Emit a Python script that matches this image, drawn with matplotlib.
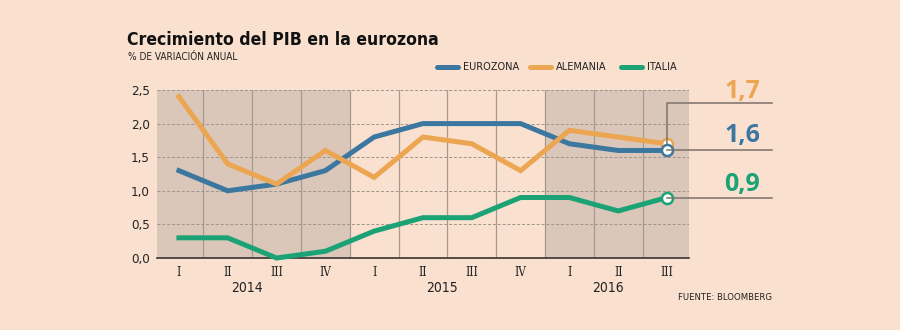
import matplotlib.pyplot as plt

# Trimestres 2014-I .. 2016-III
quarters = ['I', 'II', 'III', 'IV', 'I', 'II', 'III', 'IV', 'I', 'II', 'III']
years = ['2014', '2015', '2016']
year_pos = [1.4, 5.4, 8.8]

eurozona = [1.3, 1.0, 1.1, 1.3, 1.8, 2.0, 2.0, 2.0, 1.7, 1.6, 1.6]
alemania = [2.4, 1.4, 1.1, 1.6, 1.2, 1.8, 1.7, 1.3, 1.9, 1.8, 1.7]
italia = [0.3, 0.3, 0.0, 0.1, 0.4, 0.6, 0.6, 0.9, 0.9, 0.7, 0.9]

yticks = [0.0, 0.5, 1.0, 1.5, 2.0, 2.5]

BG = '#f9e0cf'
SHADE = '#dac7b9'
C_EZ = '#3c77a0'
C_AL = '#eca550'
C_IT = '#1ba376'
TXT = '#222222'
SANS = dict(family='DejaVu Sans', stretch='condensed')

fig = plt.figure(figsize=(9, 3.3), dpi=100, facecolor=BG)
ax = fig.add_axes([0.1744, 0.2182, 0.5911, 0.5091])
ax.set_facecolor(BG)

n = len(quarters)
xs = list(range(n))
ax.set_xlim(-0.45, n - 0.55)
ax.set_ylim(0, 2.5)

# bandas de 2014 y 2016
ax.axvspan(-0.45, 3.5, color=SHADE, zorder=0, lw=0)
ax.axvspan(7.5, n - 0.55, color=SHADE, zorder=0, lw=0)

for x in range(n - 1):
    ax.axvline(x + 0.5, color='#a89990', lw=0.9, zorder=1)
for y in yticks[1:]:
    ax.axhline(y, color='#9f948c', lw=0.7, ls=(0, (3, 2)), zorder=1)

for s in ['top', 'right', 'left']:
    ax.spines[s].set_visible(False)
ax.spines['bottom'].set_color('#3a3330')
ax.spines['bottom'].set_linewidth(1.2)

lw = 3.6
for vals, c in [(eurozona, C_EZ), (alemania, C_AL), (italia, C_IT)]:
    ax.plot(xs, vals, color=c, lw=lw, solid_joinstyle='miter', zorder=3, clip_on=False)

for vals, c in [(alemania, C_AL), (eurozona, C_EZ), (italia, C_IT)]:
    ax.plot(xs[-1], vals[-1], 'o', ms=8, mfc='white', mec=c, mew=1.8, zorder=5, clip_on=False)

ax.set_yticks(yticks)
ax.set_yticklabels([f'{v:.1f}'.replace('.', ',') for v in yticks],
                   fontsize=9.5, color=TXT, **SANS)
ax.set_xticks(xs)
ax.set_xticklabels(quarters, fontsize=8.5, family='DejaVu Serif', stretch='condensed',
                   color=TXT)
ax.tick_params(length=0, pad=5)
ax.tick_params(axis='x', pad=6)

for yr, p in zip(years, year_pos):
    ax.text(p, -0.34, yr, ha='center', va='top', fontsize=10, color=TXT,
            clip_on=False, **SANS)

# líneas guía hacia los valores finales
line_end = 772 / 900
fx = ax.transData.transform
inv = fig.transFigure.inverted()
gcol = '#7d716a'
for vals, y_line, label, c, ylab in [
    (alemania, 2.31, '1,7', C_AL, 2.48),
    (eurozona, 1.6, '1,6', C_EZ, 1.82),
    (italia, 0.9, '0,9', C_IT, 1.09),
]:
    x0, y0 = inv.transform(fx((xs[-1], vals[-1])))
    _, y1 = inv.transform(fx((xs[-1], y_line)))
    fig.add_artist(plt.Line2D([x0, x0, line_end], [y0, y1, y1], color=gcol,
                              lw=1.1, zorder=2))
    _, yl = inv.transform(fx((xs[-1], ylab)))
    fig.text(742 / 900, yl, label, ha='center', va='center', fontsize=18,
             fontweight='bold', family='Open Sans', stretch='condensed', color=c)

fig.text(127 / 900, 1 - 40 / 330, 'Crecimiento del PIB en la eurozona', fontsize=12.6,
         fontweight='bold', color='#111111', va='center', ha='left', **SANS)
fig.text(128 / 900, 1 - 57 / 330, '% DE VARIACIÓN ANUAL', fontsize=7.2,
         color=TXT, va='center', ha='left', **SANS)

# leyenda
legend = [('EUROZONA', C_EZ, 437), ('ALEMANIA', C_AL, 530), ('ITALIA', C_IT, 621)]
ly = 1 - 67 / 330
for name, c, px in legend:
    fig.add_artist(plt.Line2D([px / 900, (px + 21) / 900], [ly, ly], color=c, lw=3.6,
                              solid_capstyle='round'))
    fig.text((px + 26) / 900, ly, name, fontsize=7.8, color=TXT,
             va='center', ha='left', **SANS)

fig.text(772 / 900, 1 - 297 / 330, 'FUENTE: BLOOMBERG', fontsize=6.8,
         color=TXT, va='center', ha='right', **SANS)

fig.savefig('out.png', dpi=100, facecolor=BG)
